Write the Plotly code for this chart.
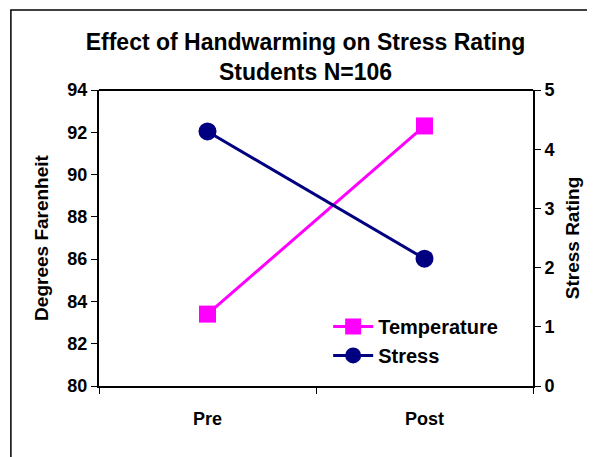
import plotly.graph_objects as go

categories = ["Pre", "Post"]
temperature = [83.4, 92.3]
stress = [4.3, 2.15]

FONT = "Liberation Sans, Arial, sans-serif"

fig = go.Figure()

fig.add_trace(go.Scatter(
    x=categories, y=temperature, name="Temperature",
    mode="lines+markers",
    line=dict(color="#FF00FF", width=3),
    marker=dict(symbol="square", size=17, color="#FF00FF"),
))
fig.add_trace(go.Scatter(
    x=categories, y=stress, name="Stress", yaxis="y2",
    mode="lines+markers",
    line=dict(color="#000080", width=3),
    marker=dict(symbol="circle", size=18, color="#000080"),
))

axis_font = dict(family=FONT, size=18, color="black", weight="bold")
title_font = dict(family=FONT, size=19, color="black", weight="bold")

# page body has an 8px default margin, so margins are offset by 8px
fig.update_layout(
    width=595, height=457,
    margin=dict(l=91, r=70, t=82, b=79),
    paper_bgcolor="white", plot_bgcolor="white",
    font=dict(family=FONT, color="black"),
    title=dict(
        text="Effect of Handwarming on Stress Rating<br>Students N=106",
        x=0.5, xanchor="center", y=0.908, yanchor="middle",
        font=dict(family=FONT, size=23, color="black", weight="bold"),
    ),
    showlegend=True,
    legend=dict(
        x=0.528, y=0.267, xanchor="left", yanchor="top",
        bgcolor="rgba(0,0,0,0)",
        font=dict(family=FONT, size=20, color="black", weight="bold"),
        tracegroupgap=0, itemwidth=40,
    ),
    xaxis=dict(
        type="category", range=[-0.5, 1.5], tickson="boundaries",
        showline=True, linecolor="black", linewidth=2,
        ticks="outside", ticklen=6, tickcolor="black", tickwidth=1,
        showgrid=False, tickfont=axis_font, automargin=False,
        ticklabelstandoff=15,
    ),
    yaxis=dict(
        range=[80, 94], dtick=2, showline=True, linecolor="black", linewidth=2,
        ticks="outside", ticklen=6, tickcolor="black", showgrid=False,
        zeroline=False, tickfont=axis_font, automargin=False,
        title=dict(text="Degrees Farenheit", font=title_font, standoff=14),
    ),
    yaxis2=dict(
        range=[0, 5], dtick=1, overlaying="y", side="right",
        showline=True, linecolor="black", linewidth=2,
        ticks="outside", ticklen=6, tickcolor="black", showgrid=False,
        zeroline=False, tickfont=axis_font, automargin=False,
        title=dict(text="Stress Rating", font=title_font, standoff=12),
    ),
)

# top border line of the plot area
fig.add_shape(type="line", xref="paper", yref="paper", x0=0, x1=1, y0=1, y1=1,
              line=dict(color="black", width=2))
# outer chart frame (extends beyond the right/bottom edges)
fig.add_shape(type="rect", xref="paper", yref="paper", x0=-0.203, x1=1.3, y0=-0.4, y1=1.27,
              line=dict(color="black", width=1.5), fillcolor="rgba(0,0,0,0)")

fig.write_html("out.html")
